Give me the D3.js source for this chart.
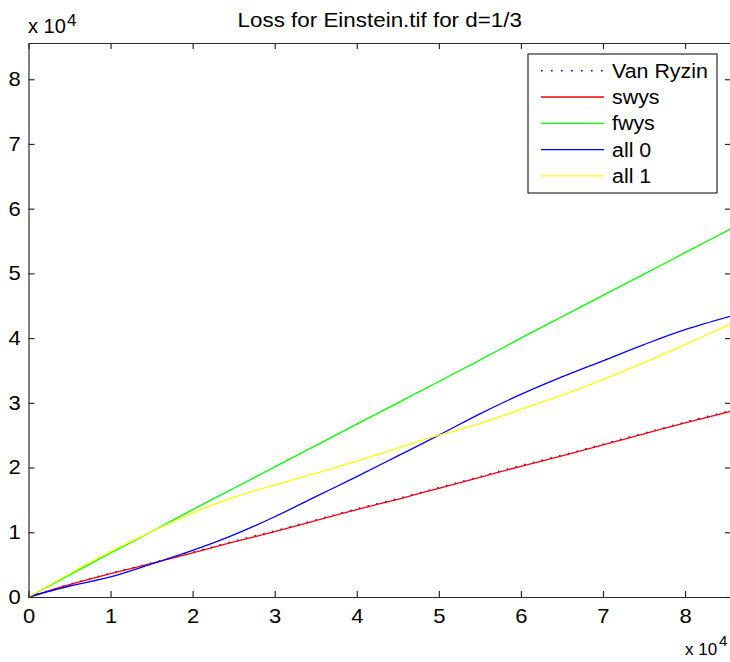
<!DOCTYPE html>
<html>
<head>
<meta charset="utf-8">
<script src="https://cdn.jsdelivr.net/npm/d3@7"></script>
<style>
  html, body { margin: 0; padding: 0; background: #fff; }
  svg { display: block; font-family: "Liberation Sans", Arial, sans-serif; }
</style>
</head>
<body>
<svg id="chart" width="730" height="662"></svg>
<script>
// ---- data (x and y in raw units; axes show ×10^4) ----
const xValues   = [0, 5000, 10000, 15000, 20000, 25000, 30000, 35000, 40000, 45000, 50000, 55000, 60000, 65000, 70000, 75000, 80000, 85600];
const vanRyzin  = [0, 1950, 3650, 5250, 6900, 8600, 10200, 11900, 13600, 15200, 16900, 18600, 20300, 21900, 23600, 25300, 27000, 28800];
const swys      = [0, 1900, 3600, 5200, 6800, 8500, 10100, 11800, 13500, 15100, 16800, 18500, 20200, 21800, 23500, 25200, 26900, 28700];
const fwys      = [0, 3400, 6800, 10100, 13500, 16800, 20100, 23400, 26700, 30000, 33300, 36600, 40000, 43300, 46600, 49900, 53200, 56900];
const all0      = [0, 1700, 3100, 5100, 7200, 9600, 12400, 15500, 18600, 21800, 25000, 28300, 31300, 34000, 36500, 39000, 41300, 43400];
const all1      = [0, 3600, 7000, 10100, 13000, 15400, 17300, 19100, 21000, 23000, 25000, 26800, 29000, 31200, 33600, 36200, 39000, 42200];
const seriesNames  = ["Van Ryzin", "swys", "fwys", "all 0", "all 1"];
const seriesColors = ["#0000ff", "#ff0000", "#00ff00", "#0000ff", "#ffff00"];
const xTicks = [0, 10000, 20000, 30000, 40000, 50000, 60000, 70000, 80000];
const yTicks = [0, 10000, 20000, 30000, 40000, 50000, 60000, 70000, 80000];
const tickLabels = ["0", "1", "2", "3", "4", "5", "6", "7", "8"];
const titleText = "Loss for Einstein.tif for d=1/3";

const seriesData = [vanRyzin, swys, fwys, all0, all1];

const svg = d3.select("#chart");
const pLeft = 28.5, pRight = 731, pTop = 43, pBottom = 597;
const x = d3.scaleLinear().domain([0, 85600]).range([pLeft, pRight]);
const y = d3.scaleLinear().domain([0, 85600]).range([pBottom, pTop]);

const axisColor = "#2a2a2a";
const stretch = 1.1;

// lines
const line = d3.line()
  .x((d, i) => x(xValues[i]))
  .y(d => y(d))
  .curve(d3.curveCatmullRom.alpha(0.5));

const plot = svg.append("g");
seriesData.forEach((s, k) => {
  const p = plot.append("path")
    .datum(s)
    .attr("d", line)
    .attr("fill", "none")
    .attr("stroke", seriesColors[k])
    .attr("stroke-width", k === 0 ? 1.6 : 1.3);
  if (k === 0) p.attr("stroke-dasharray", "1.6 7.4");
});

// axes (MATLAB box with inward ticks)
const fmt = (d, i) => tickLabels[i];
const tickLen = 6;
const bottomAxis = svg.append("g").attr("transform", `translate(0,${pBottom})`)
  .call(d3.axisBottom(x).tickValues(xTicks).tickFormat(fmt).tickSizeInner(-tickLen).tickSizeOuter(0).tickPadding(12));
const topAxis = svg.append("g").attr("transform", `translate(0,${pTop})`)
  .call(d3.axisTop(x).tickValues(xTicks).tickFormat(() => "").tickSizeInner(-tickLen).tickSizeOuter(0));
const leftAxis = svg.append("g").attr("transform", `translate(${pLeft},0)`)
  .call(d3.axisLeft(y).tickValues(yTicks).tickFormat(fmt).tickSizeInner(-tickLen).tickSizeOuter(0).tickPadding(7));
const rightAxis = svg.append("g").attr("transform", `translate(${pRight},0)`)
  .call(d3.axisRight(y).tickValues(yTicks).tickFormat(() => "").tickSizeInner(-tickLen).tickSizeOuter(0));

[bottomAxis, topAxis, leftAxis, rightAxis].forEach(g => {
  g.select(".domain").attr("stroke", axisColor).attr("stroke-width", 1.2);
  g.selectAll(".tick line").attr("stroke", axisColor).attr("stroke-width", 1.2);
  g.selectAll(".tick text").attr("fill", "#000").attr("font-size", 20)
    .attr("font-family", "'Liberation Sans', Arial, sans-serif")
    .attr("transform", `scale(${stretch},1)`);
});

// title
svg.append("text")
  .attr("transform", `translate(${(pLeft + pRight) / 2},27) scale(${stretch + 0.02},1)`)
  .attr("text-anchor", "middle").attr("font-size", 20).attr("fill", "#000")
  .text(titleText);

// exponent labels
const topExp = svg.append("text").attr("x", 28).attr("y", 33)
  .attr("font-size", 20).attr("fill", "#000");
topExp.append("tspan").text("x 10");
topExp.append("tspan").attr("x", 67).attr("y", 26).attr("font-size", 17).text("4");

const botExp = svg.append("text").attr("x", 685).attr("y", 655)
  .attr("font-size", 17).attr("fill", "#000");
botExp.append("tspan").text("x 10");
botExp.append("tspan").attr("x", 719).attr("y", 646).attr("font-size", 15).text("4");

// legend
const lg = svg.append("g");
lg.append("rect")
  .attr("x", 528).attr("y", 54).attr("width", 189).attr("height", 139)
  .attr("fill", "#fff").attr("stroke", axisColor).attr("stroke-width", 1.2);
seriesNames.forEach((name, k) => {
  const yy = 70.7 + k * 26.3;
  const l = lg.append("line")
    .attr("x1", 541).attr("x2", 604).attr("y1", yy).attr("y2", yy)
    .attr("stroke", seriesColors[k]).attr("stroke-width", k === 0 ? 1.6 : 1.3);
  if (k === 0) l.attr("stroke-dasharray", "1.6 8.4");
  lg.append("text")
    .attr("transform", `translate(612,${yy}) scale(1.07,1)`)
    .attr("dy", "0.35em")
    .attr("font-size", 20).attr("fill", "#000").text(name);
});
</script>
</body>
</html>
